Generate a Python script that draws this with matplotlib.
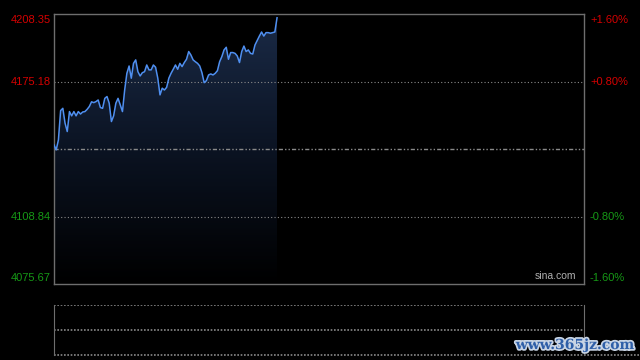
import matplotlib

matplotlib.use("Agg")
import matplotlib.patheffects as pe
import numpy as np
from matplotlib import pyplot as plt

# 分时价格（每分钟一个点，从开盘起）
prices = [
    4144.0, 4141.6, 4146.5, 4160.9, 4162.0, 4154.7, 4150.6, 4160.4, 4158.3, 4160.4,
    4158.3, 4160.4, 4159.2, 4160.2, 4160.4, 4161.5, 4162.9, 4165.2, 4164.8, 4165.3,
    4166.1, 4162.4, 4162.0, 4166.9, 4167.8, 4164.5, 4155.5, 4158.3, 4164.5, 4166.9,
    4163.7, 4160.4, 4171.0, 4179.2, 4182.8, 4176.8, 4184.1, 4185.8, 4180.0, 4177.9,
    4179.5, 4180.0, 4183.3, 4180.9, 4180.9, 4183.3, 4182.2, 4176.8, 4168.6, 4171.9,
    4171.0, 4172.3, 4176.8, 4179.2, 4181.2, 4183.3, 4181.2, 4184.1, 4182.5, 4184.5,
    4186.1, 4189.9, 4188.2, 4185.8, 4184.9, 4184.1, 4182.8, 4179.5, 4174.6, 4175.6,
    4178.4, 4178.9, 4178.4, 4179.2, 4180.5, 4184.9, 4187.4, 4190.7, 4192.0, 4186.1,
    4189.4, 4189.4, 4189.0, 4187.7, 4184.5, 4189.9, 4192.6, 4189.9, 4190.7, 4189.0,
    4188.7, 4193.1, 4195.3, 4197.5, 4199.5, 4197.5, 4199.2, 4199.2, 4198.9, 4199.2,
    4199.5, 4206.5,
]
prev_close = 4142.01
price_ticks = [4208.35, 4175.18, 4108.84, 4075.67]
pct_labels = ["+1.60%", "+0.80%", "-0.80%", "-1.60%"]
total_minutes = 240

UP = "#d40000"
DOWN = "#169916"
GRID = "#8a8a8a"
FRAME = "#6e6e6e"

fig = plt.figure(figsize=(6.4, 3.6), dpi=100)
fig.patch.set_facecolor("black")

ax = fig.add_axes([54 / 640, 1 - 284 / 360, 530 / 640, 270 / 360])
ax.set_facecolor("black")
lo, hi = price_ticks[-1], price_ticks[0]
ax.set_xlim(0, total_minutes)
ax.set_ylim(lo, hi)
for s in ax.spines.values():
    s.set_color(FRAME)
    s.set_linewidth(1.0)
ax.set_xticks([])
ax.set_yticks([])

for p in (price_ticks[1], price_ticks[2]):
    ax.axhline(p, color=GRID, linewidth=0.8, linestyle=(0, (1, 2)))
ax.axhline(prev_close, color=GRID, linewidth=1.0, linestyle=(0, (3, 1.5, 1, 1.5, 1, 1.5)))

x = np.arange(len(prices))
# 渐变填充
grad = np.linspace(0, 1, 256).reshape(-1, 1)
cmap = matplotlib.colors.LinearSegmentedColormap.from_list(
    "fill", ["#000000", "#0b1322", "#1a2a46"]
)
img = ax.imshow(
    grad, aspect="auto", cmap=cmap, origin="lower",
    extent=[0, x[-1], lo, max(prices)], zorder=1,
)
poly = ax.fill_between(x, prices, lo, color="none", zorder=1)
img.set_clip_path(poly.get_paths()[0], transform=ax.transData)
ax.plot(x, prices, color="#4f8ff0", linewidth=1.1, zorder=3)

ax.text(0.985, 0.012, "sina.com", transform=ax.transAxes, ha="right", va="bottom",
        color="#b0b0b0", fontsize=7.5, family="Liberation Sans")

# 左右刻度标签
label_y = [20, 82, 217, 278]
for p, pct, yy in zip(price_ticks, pct_labels, label_y):
    c = UP if p > prev_close else DOWN
    fy = 1 - yy / 360
    fig.text(51 / 640, fy, f"{p:.2f}", ha="right", va="center", color=c,
             fontsize=8, family="Liberation Sans")
    fig.text(590 / 640, fy, pct, ha="left", va="center", color=c,
             fontsize=8, family="Liberation Sans")

# 下方成交量面板
ax2 = fig.add_axes([54 / 640, 1 - 355 / 360, 530 / 640, 50 / 360])
ax2.set_facecolor("black")
ax2.set_xlim(0, total_minutes)
ax2.set_ylim(0, 2)
ax2.set_xticks([])
ax2.set_yticks([])
for side in ("top", "bottom"):
    ax2.spines[side].set_visible(False)
for side in ("left", "right"):
    ax2.spines[side].set_color(FRAME)
for yv in (1, 2):
    ax2.axhline(yv, color=GRID, linewidth=1.2, linestyle=(0, (1, 1)))
ax2.axhline(0, color=GRID, linewidth=1.2, linestyle=(0, (1, 1)), xmax=1.12, clip_on=False)

fig.text(575 / 640, 1 - 345 / 360, "www.365jz.com", ha="center", va="center",
         color="#2f5fa8", fontsize=10, fontweight="bold", family="DejaVu Serif",
         path_effects=[pe.withStroke(linewidth=2.5, foreground="#c8d4e4")])

fig.savefig("out.png", dpi=100, facecolor="black")
